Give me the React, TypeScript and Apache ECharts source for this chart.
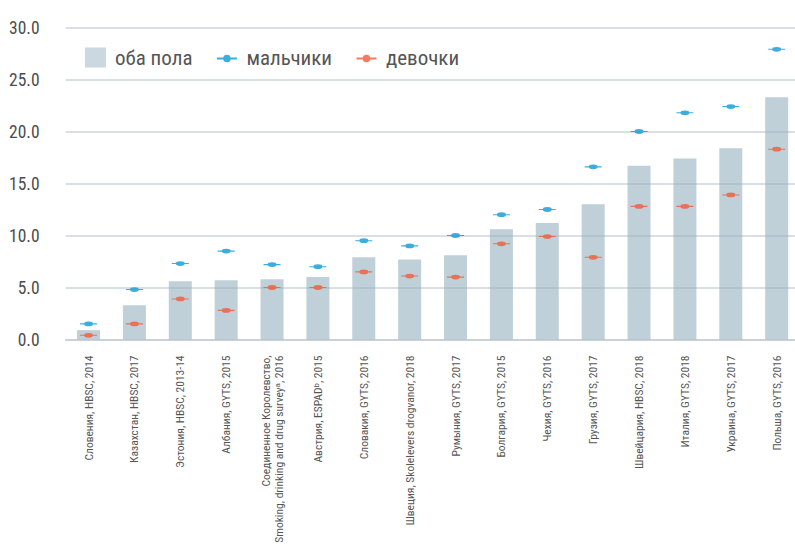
import React, { useEffect, useRef } from "react";
import * as echarts from "echarts";

const categories = [
  "Словения, HBSC, 2014",
  "Казахстан, HBSC, 2017",
  "Эстония, HBSC, 2013-14",
  "Албания, GYTS, 2015",
  "Соединенное Королевство,\nSmoking, drinking and drug surveyᵃ, 2016",
  "Австрия, ESPADᵇ, 2015",
  "Словакия, GYTS, 2016",
  "Швеция, Skolelevers drogvanor, 2018",
  "Румыния, GYTS, 2017",
  "Болгария, GYTS, 2015",
  "Чехия, GYTS, 2016",
  "Грузия, GYTS, 2017",
  "Швейцария, HBSC, 2018",
  "Италия, GYTS, 2018",
  "Украина, GYTS, 2017",
  "Польша, GYTS, 2016",
];
const both = [0.9, 3.3, 5.6, 5.7, 5.8, 6.0, 7.9, 7.7, 8.1, 10.6, 11.2, 13.0, 16.7, 17.4, 18.4, 23.3];
const boys = [1.5, 4.8, 7.3, 8.5, 7.2, 7.0, 9.5, 9.0, 10.0, 12.0, 12.5, 16.6, 20.0, 21.8, 22.4, 27.9];
const girls = [0.4, 1.5, 3.9, 2.8, 5.0, 5.0, 6.5, 6.1, 6.0, 9.2, 9.9, 7.9, 12.8, 12.8, 13.9, 18.3];
const seriesNames = ["оба пола", "мальчики", "девочки"];
const yTicks = { min: 0, max: 30, interval: 5 };

const FONT = "'Roboto Condensed', 'Roboto', sans-serif";
const MARK = "path://M0,3.5 L17,3.5 L17,5.5 L0,5.5 Z M13,4.5 A4.5,4.5 0 1 1 4,4.5 A4.5,4.5 0 1 1 13,4.5 Z";
const LEGEND_MARK =
  "path://M0,0 L0.01,0 L0,0.01 Z M21,20 L20.99,20 L21,19.99 Z M0.5,10 L20.5,10 L20.5,12 L0.5,12 Z M14.3,11 A3.8,3.8 0 1 1 6.7,11 A3.8,3.8 0 1 1 14.3,11 Z";

export default function App() {
  const ref = useRef<HTMLDivElement>(null);
  useEffect(() => {
    if (!ref.current) return;
    const chart = echarts.init(ref.current, undefined, { renderer: "svg" });
    chart.setOption({
      animation: false,
      backgroundColor: "#ffffff",
      textStyle: { fontFamily: FONT },
      legend: {
        left: 85,
        top: 47,
        padding: 0,
        itemWidth: 21,
        itemHeight: 20,
        itemGap: 24,
        textStyle: { fontFamily: FONT, fontSize: 21, color: "#555555", padding: [0, 0, 0, 4] },
        data: [
          { name: seriesNames[0], icon: "rect", itemStyle: { color: "#cbd8e0" } },
          { name: seriesNames[1], icon: LEGEND_MARK },
          { name: seriesNames[2], icon: LEGEND_MARK },
        ],
      },
      grid: { left: 65.6, width: 734, top: 27.5, bottom: 207.5, outerBoundsMode: "none", containLabel: false },
      xAxis: {
        type: "category",
        data: categories,
        axisTick: { show: false },
        axisLine: { lineStyle: { color: "#c5ced5", width: 1.5 } },
        axisLabel: {
          interval: 0,
          rotate: 90,
          margin: 16,
          fontFamily: FONT,
          fontSize: 11.5,
          color: "#555555",
          lineHeight: 13,
        },
      },
      yAxis: {
        type: "value",
        min: yTicks.min,
        max: yTicks.max,
        interval: yTicks.interval,
        axisLine: { show: false },
        axisTick: { show: false },
        splitLine: { lineStyle: { color: "#cdd5db", width: 1.5 } },
        axisLabel: {
          margin: 26,
          fontFamily: FONT,
          fontSize: 17.5,
          color: "#4d4d4d",
          formatter: (v: number) => v.toFixed(1),
        },
      },
      series: [
        {
          name: seriesNames[0],
          type: "bar",
          data: both,
          barWidth: 23,
          itemStyle: { color: "rgba(150,176,190,0.6)" },
        },
        {
          name: seriesNames[1],
          type: "scatter",
          data: boys,
          symbol: MARK,
          symbolSize: [17, 9],
          symbolKeepAspect: true,
          itemStyle: { color: "#0a9ad6" },
          z: 3,
        },
        {
          name: seriesNames[2],
          type: "scatter",
          data: girls,
          symbol: MARK,
          symbolSize: [17, 9],
          symbolKeepAspect: true,
          itemStyle: { color: "#f15a3a" },
          z: 3,
        },
      ],
    });
    return () => chart.dispose();
  }, []);
  return <div ref={ref} style={{ width: 795, height: 547, position: "absolute", left: 0, top: 0 }} />;
}
